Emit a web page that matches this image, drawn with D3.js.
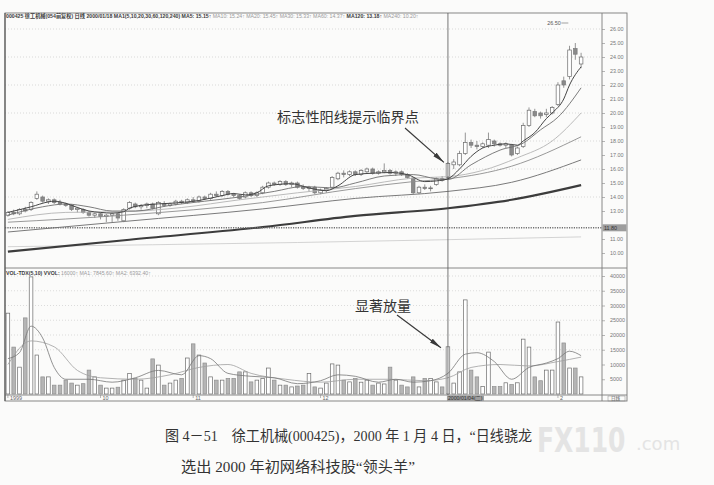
<!DOCTYPE html>
<html>
<head>
<meta charset="utf-8">
<script src="https://cdn.jsdelivr.net/npm/d3@7"></script>
<style>
  html, body { margin: 0; padding: 0; background: #fbfbfa; }
  svg { display: block; }
</style>
</head>
<body>
<svg id="chart" width="714" height="485"></svg>
<script>
// ---- trading days, 1999/09 .. 2000/02 ----
const sepDays = [9,10,13,14,15,16,17,20,21,22,23,24,27,28,29,30];
const octDays = [8,11,12,13,14,15,18,19,20,21,22,25,26,27,28,29];
const novDays = [1,2,3,4,5,8,9,10,11,12,15,16,17,18,19,22,23,24,25,26,29,30];
const decDays = [1,2,3,6,7,8,9,10,13,14,15,16,17,21,22,23,24,27,28,29,30,31];
const janDays = [4,5,6,7,10,11,12,13,14,17,18,19,20,21,24,25,26,27,28];
const febDays = [14,15,16,17,18];

const pad = d => String(d).padStart(2, "0");
const dates = [
  ...sepDays.map(d => "1999/09/" + pad(d)),
  ...octDays.map(d => "1999/10/" + pad(d)),
  ...novDays.map(d => "1999/11/" + pad(d)),
  ...decDays.map(d => "1999/12/" + pad(d)),
  ...janDays.map(d => "2000/01/" + pad(d)),
  ...febDays.map(d => "2000/02/" + pad(d))
];

// ---- daily prices (000425) ----
const opens = [
  12.7,12.9,12.8,13.1,13.1,13.9,14.0,13.7,13.8,13.6,
  13.5,13.4,13.1,13.1,12.9,12.7,12.8,12.6,12.7,12.8,
  12.3,13.2,13.5,13.3,13.4,13.5,12.8,13.5,13.4,13.5,
  13.7,13.6,13.8,13.7,14.0,13.9,14.2,14.1,14.4,14.2,
  14.1,14.0,14.3,14.1,14.3,14.7,15.0,14.9,15.1,14.9,
  15.0,14.7,14.6,14.7,14.3,14.5,14.7,15.3,15.7,15.6,
  15.8,15.6,15.8,16.0,15.7,15.8,15.9,15.7,15.8,15.6,
  15.35,14.3,14.7,14.6,14.9,15.3,15.4,16.3,16.3,17.1,
  17.9,17.7,17.6,17.7,18.0,17.8,17.7,17.7,17.1,17.6,
  19.1,20.1,20.0,19.9,20.0,20.6,22.3,22.6,24.6,23.5
];
const highs = [
  13.0,13.1,13.2,13.3,13.7,14.4,14.1,13.9,13.9,13.8,
  13.6,13.5,13.3,13.2,13.0,12.9,12.9,12.8,12.9,12.9,
  13.2,13.7,13.6,13.5,13.6,13.6,13.7,13.7,13.6,13.8,
  13.8,13.9,14.0,14.1,14.1,14.3,14.4,14.5,14.5,14.3,
  14.2,14.4,14.4,14.4,14.8,15.1,15.1,15.2,15.2,15.1,
  15.1,14.9,14.8,14.8,14.6,14.7,15.5,15.8,15.9,15.9,
  15.9,16.0,16.1,16.1,15.9,16.4,16.0,15.9,15.9,15.7,
  15.4,14.8,14.9,14.8,15.4,15.5,16.5,16.7,17.3,18.6,
  18.1,18.0,17.9,18.6,18.1,17.9,17.9,17.8,17.6,19.3,
  20.4,20.3,20.1,20.3,20.5,22.2,22.6,24.8,25.0,24.3
];
const lows = [
  12.6,12.7,12.7,12.9,13.0,13.8,13.6,13.5,13.5,13.4,
  13.3,13.0,12.9,12.8,12.6,12.5,12.4,12.2,12.2,12.3,
  12.2,13.1,13.2,13.1,13.2,13.1,12.7,13.3,13.3,13.4,
  13.5,13.5,13.6,13.6,13.8,13.8,14.0,14.0,14.1,14.0,
  13.8,13.9,14.0,14.0,14.2,14.6,14.8,14.8,14.8,14.7,
  14.6,14.5,14.4,14.2,14.2,14.3,14.6,15.2,15.4,15.5,
  15.5,15.5,15.7,15.6,15.6,15.7,15.6,15.5,15.5,15.3,
  14.2,14.2,14.5,14.4,14.8,15.1,15.2,16.0,16.2,17.0,
  17.5,17.4,17.5,17.5,17.6,17.6,17.5,16.9,17.0,17.5,
  19.0,19.7,19.6,19.7,19.9,20.5,21.8,22.4,23.8,23.2
];
const closes = [
  12.9,12.8,13.1,13.0,13.6,14.2,13.7,13.8,13.6,13.5,
  13.4,13.1,13.2,12.9,12.7,12.8,12.6,12.7,12.8,12.5,
  13.1,13.6,13.3,13.4,13.5,13.2,13.6,13.4,13.5,13.7,
  13.6,13.8,13.7,14.0,13.9,14.2,14.1,14.4,14.2,14.1,
  13.9,14.3,14.1,14.3,14.7,15.0,14.9,15.1,14.9,15.0,
  14.7,14.6,14.7,14.3,14.5,14.6,15.4,15.7,15.6,15.8,
  15.6,15.9,16.0,15.7,15.8,15.9,15.7,15.8,15.6,15.4,
  14.3,14.7,14.6,14.65,15.3,15.2,16.4,16.5,17.1,17.9,
  17.7,17.6,17.8,18.1,17.8,17.7,17.8,17.0,17.5,19.1,
  20.2,19.8,19.8,20.0,20.4,22.0,22.0,24.5,24.2,24.0
];
const volumes = [
  27400,15900,9100,25800,39700,13200,5800,5800,3000,3000,
  4700,3700,3000,3500,8100,5800,3000,2000,2000,2300,
  4700,7000,5300,4700,2000,11900,9800,3000,3700,4700,
  5300,12200,17000,13200,10500,5800,4700,4700,5300,5300,
  7500,7500,4100,4700,5300,8800,4700,3000,3000,2400,
  2700,3000,7000,2400,2000,3700,10200,9800,4700,4100,
  5300,4000,4700,3000,3700,3400,9100,4700,3000,2400,
  5800,2400,5300,5300,4100,2400,16000,3700,7500,31900,
  8100,5800,2500,14200,2500,2500,3800,3200,3800,18600,
  15900,5800,4500,8100,8100,24400,17300,8800,8800,5800
];

// ---- moving averages, [trading-day index, value] ----
const ma5 = [[0,12.9],[4,13.3],[7,13.65],[8,13.7],[10,13.55],[12,13.25],[14,13.0],[16,12.9],[18,12.85],[20,12.95],[21,13.2],[24,13.45],[28,13.55],[33,13.75],[37,14.1],[39,14.25],[41,14.15],[43,14.3],[45,14.8],[49,14.95],[52,14.65],[55,14.45],[57,14.8],[60,15.6],[63,15.7],[66,15.75],[69,15.6],[72,15.1],[74,15.15],[76,15.3],[78,16.0],[80,16.9],[82,17.5],[84,17.7],[86,17.8],[88,17.7],[89,18.0],[91,18.6],[93,19.6],[94,20.0],[96,21.0],[97,22.0],[99,23.3]];
const ma10 = [[0,12.7],[6,13.3],[10,13.5],[14,13.3],[18,13.0],[22,13.0],[28,13.4],[34,13.7],[40,14.0],[46,14.4],[51,14.75],[56,14.65],[60,15.0],[65,15.5],[70,15.6],[74,15.3],[76,15.25],[80,16.3],[85,17.35],[89,17.85],[92,18.8],[95,19.7],[99,21.8]];
const ma20 = [[0,12.4],[10,12.9],[20,12.95],[30,13.25],[40,13.8],[50,14.3],[60,14.75],[70,15.35],[76,15.45],[82,15.9],[88,16.8],[94,18.0],[99,20.0]];
const ma30 = [[0,12.2],[20,12.7],[44,13.6],[60,14.6],[70,15.1],[76,15.3],[87,16.2],[99,18.3]];
const ma60 = [[0,11.5],[20,12.25],[44,13.15],[60,13.9],[76,14.4],[87,15.05],[99,16.65]];
const ma120 = [[0,10.1],[21,10.95],[44,11.85],[60,12.65],[76,13.2],[87,13.8],[99,14.85]];
const ma240 = [[0,10.45],[50,10.75],[99,11.15]];

const volMa5 = [[0,12000],[2,14000],[4,23000],[6,19000],[8,9000],[10,5000],[14,5000],[18,4000],[22,5500],[26,8000],[30,6500],[33,13000],[35,12000],[38,7000],[42,6000],[46,5500],[50,3500],[54,4500],[57,6500],[60,6000],[64,4000],[67,5000],[70,4000],[73,4500],[76,7000],[79,13500],[81,14000],[84,11000],[87,5000],[90,9000],[93,10500],[95,12000],[97,14500],[99,13000]];
const volMa10 = [[0,10000],[4,18000],[8,16000],[12,8000],[16,5500],[22,5000],[28,6500],[33,9000],[38,10000],[42,7000],[48,5000],[54,4000],[60,5000],[66,5000],[72,4500],[76,5500],[80,9000],[85,10000],[90,9500],[95,11000],[99,12500]];

// ---- axes ----
const priceTicks = [10,11,13,14,15,16,17,18,19,20,21,22,23,24,25,26];
const priceGrid = [26,24,22,20,18,16,14];
const volTicks = [5000,10000,15000,20000,25000,30000,35000,40000];
const monthLabels = [
  {date: "1999/09/09", label: "1999"},
  {date: "1999/10/08", label: "10"},
  {date: "1999/11/01", label: "11"},
  {date: "1999/12/01", label: "12"},
  {date: "2000/02/14", label: "2"}
];
const cursorDate = "2000/01/04";
const cursorLabel = "2000/01/04(二)";
const cursorPrice = 11.80;
const topPrice = 26.50;

// ---- layout ----
const L = 5, R = 627, PR = 602, T = 13, PB = 268, VB = 395, B = 401;
const tinyFont = "'Liberation Sans', 'Noto Sans CJK SC', sans-serif";
const cjk = "'Noto Sans CJK SC', sans-serif";

const svg = d3.select("#chart");

const x = d3.scaleBand().domain(dates).range([5, 584]).paddingInner(0).paddingOuter(0);
const xc = d => x(d) + x.bandwidth() / 2;
const xi = i => xc(dates[i]);
const y = d3.scaleLinear().domain([10, 26]).range([253, 29]);
const yv = d3.scaleLinear().domain([0, 40000]).range([394, 276]);

const defs = svg.append("defs");
defs.append("marker").attr("id", "ah")
  .attr("viewBox", "0 0 12 6").attr("refX", 12).attr("refY", 3)
  .attr("markerWidth", 12).attr("markerHeight", 6)
  .attr("markerUnits", "userSpaceOnUse").attr("orient", "auto")
  .append("path").attr("d", "M0,0.6 L12,3 L0,5.4 Z").attr("fill", "#3a3a3a");

// ---- grid ----
const grid = svg.append("g");
grid.selectAll("line.pg").data(priceGrid).join("line")
  .attr("x1", L).attr("x2", PR).attr("y1", d => y(d)).attr("y2", d => y(d))
  .attr("stroke", "#c4c4c4").attr("stroke-width", 0.6).attr("stroke-dasharray", "1,2");
grid.selectAll("line.vg").data(volTicks.slice(2)).join("line")
  .attr("x1", L).attr("x2", PR).attr("y1", d => yv(d)).attr("y2", d => yv(d))
  .attr("stroke", "#c8c8c8").attr("stroke-width", 0.6).attr("stroke-dasharray", "1,2");

// ---- moving average lines ----
const maLine = d3.line().x(d => xi(d[0])).y(d => y(d[1])).curve(d3.curveMonotoneX);
const maSpecs = [
  {data: ma240, color: "#c9c9c9", w: 0.8},
  {data: ma120, color: "#3c3c3c", w: 2.1},
  {data: ma60, color: "#7a7a7a", w: 1.0},
  {data: ma30, color: "#8d8d8d", w: 0.9},
  {data: ma20, color: "#b3b3b3", w: 0.9},
  {data: ma10, color: "#6e6e6e", w: 0.9},
  {data: ma5, color: "#454545", w: 1.0}
];

// ---- candles ----
const n = dates.length;
const bw = 3.6;
const candles = svg.append("g");
d3.range(n).forEach(i => {
  const up = closes[i] >= opens[i];
  const cx = xi(i);
  candles.append("line")
    .attr("x1", cx).attr("x2", cx).attr("y1", y(highs[i])).attr("y2", y(lows[i]))
    .attr("stroke", "#6a6a6a").attr("stroke-width", 0.7);
  const top = y(Math.max(opens[i], closes[i]));
  const h = Math.max(0.8, Math.abs(y(opens[i]) - y(closes[i])));
  candles.append("rect")
    .attr("x", cx - bw / 2).attr("y", top).attr("width", bw).attr("height", h)
    .attr("fill", up ? "#ffffff" : "#8a8a8a")
    .attr("stroke", up ? "#6a6a6a" : "#7a7a7a").attr("stroke-width", 0.7);
});

const maG = svg.append("g").attr("fill", "none");
maSpecs.forEach(s => {
  maG.append("path").attr("d", maLine(s.data))
    .attr("stroke", s.color).attr("stroke-width", s.w);
});

// cursor price line
svg.append("line")
  .attr("x1", L).attr("x2", PR).attr("y1", y(cursorPrice)).attr("y2", y(cursorPrice))
  .attr("stroke", "#707070").attr("stroke-width", 1.4).attr("stroke-dasharray", "1.2,1.2");

// ---- volume bars ----
const vbw = 3.6;
const vols = svg.append("g");
d3.range(n).forEach(i => {
  const up = closes[i] >= opens[i];
  vols.append("rect")
    .attr("x", xi(i) - vbw / 2).attr("y", yv(volumes[i]))
    .attr("width", vbw).attr("height", yv(0) - yv(volumes[i]))
    .attr("fill", up ? "#ffffff" : "#b5b5b5")
    .attr("stroke", up ? "#6a6a6a" : "#8f8f8f").attr("stroke-width", 0.7);
});
const vLine = d3.line().x(d => xi(d[0])).y(d => yv(d[1])).curve(d3.curveMonotoneX);
svg.append("path").attr("d", vLine(volMa10)).attr("fill", "none")
  .attr("stroke", "#a0a0a0").attr("stroke-width", 0.8);
svg.append("path").attr("d", vLine(volMa5)).attr("fill", "none")
  .attr("stroke", "#777").attr("stroke-width", 0.8);

// ---- frame ----
const frame = svg.append("g").attr("stroke", "#7a7a7a").attr("stroke-width", 0.9).attr("fill", "none");
frame.append("rect").attr("x", L).attr("y", T).attr("width", R - L).attr("height", B - T);
frame.append("line").attr("x1", PR).attr("x2", PR).attr("y1", T).attr("y2", B);
frame.append("line").attr("x1", L).attr("x2", R).attr("y1", PB).attr("y2", PB);
frame.append("line").attr("x1", L).attr("x2", R).attr("y1", VB).attr("y2", VB);
svg.append("line").attr("x1", L).attr("x2", L).attr("y1", T).attr("y2", B)
  .attr("stroke", "#555").attr("stroke-width", 1.1);

// cursor date line
svg.append("line")
  .attr("x1", xc(cursorDate)).attr("x2", xc(cursorDate)).attr("y1", T).attr("y2", VB)
  .attr("stroke", "#555").attr("stroke-width", 0.8);

// ---- right axes ----
const pAxis = d3.axisRight(y).tickValues(priceTicks).tickSize(3).tickPadding(5)
  .tickFormat(d3.format(".2f"));
const pa = svg.append("g").attr("transform", `translate(${PR},0)`).call(pAxis);
const vAxis = d3.axisRight(yv).tickValues(volTicks).tickSize(3).tickPadding(5)
  .tickFormat(d3.format("d"));
const va = svg.append("g").attr("transform", `translate(${PR},0)`).call(vAxis);
[pa, va].forEach(g => {
  g.select(".domain").remove();
  g.selectAll(".tick line").attr("stroke", "#888").attr("stroke-width", 0.6);
  g.selectAll(".tick text").attr("fill", "#777").attr("font-size", 5.4)
    .attr("font-family", tinyFont);
});

// highlighted cursor price
svg.append("rect").attr("x", PR + 0.5).attr("y", y(cursorPrice) - 3.5)
  .attr("width", R - PR - 1).attr("height", 7).attr("fill", "#9d9d9d");
svg.append("text").attr("x", PR + 2).attr("y", y(cursorPrice) + 2)
  .attr("font-size", 5.4).attr("font-family", tinyFont).attr("fill", "#333")
  .text(d3.format(".2f")(cursorPrice));

// ---- date strip ----
const dateG = svg.append("g").attr("font-family", tinyFont).attr("font-size", 5.4).attr("fill", "#666");
monthLabels.forEach(m => {
  const mx = xc(m.date);
  svg.append("line").attr("x1", mx).attr("x2", mx).attr("y1", VB).attr("y2", VB + 3)
    .attr("stroke", "#888").attr("stroke-width", 0.6);
  dateG.append("text").attr("x", mx + 2).attr("y", VB + 5).text(m.label);
});
svg.append("rect").attr("x", xc(cursorDate) - 1).attr("y", VB + 0.5)
  .attr("width", 37).attr("height", 5.5).attr("fill", "#9d9d9d");
svg.append("text").attr("x", xc(cursorDate)).attr("y", VB + 5)
  .attr("font-family", tinyFont).attr("font-size", 5.2).attr("fill", "#333").text(cursorLabel);
svg.append("rect").attr("x", 608).attr("y", VB + 1).attr("width", 17).attr("height", 5)
  .attr("fill", "none").attr("stroke", "#888").attr("stroke-width", 0.5);
svg.append("text").attr("x", 611).attr("y", VB + 5).attr("font-family", cjk)
  .attr("font-size", 4.5).attr("fill", "#555").text("日线");

// ---- headers ----
const head = svg.append("text").attr("x", 6).attr("y", 17.5)
  .attr("font-family", tinyFont).attr("font-size", 5.2);
const headParts = [
  {t: "000425 徐工机械(054前复权) 日线 2000/01/18 MA1(5,10,20,30,60,120,240) ", c: "#3a3a3a", w: 700},
  {t: "MA5: 15.15↑ ", c: "#3a3a3a", w: 700},
  {t: "MA10: 15.24↑ ", c: "#9a9a9a", w: 400},
  {t: "MA20: 15.45↑ ", c: "#9a9a9a", w: 400},
  {t: "MA30: 15.33↑ ", c: "#9a9a9a", w: 400},
  {t: "MA60: 14.37↑ ", c: "#9a9a9a", w: 400},
  {t: "MA120: 13.18↑ ", c: "#3a3a3a", w: 700},
  {t: "MA240: 10.20↑", c: "#9a9a9a", w: 400}
];
headParts.forEach(p => head.append("tspan").attr("fill", p.c).attr("font-weight", p.w).text(p.t));

const vhead = svg.append("text").attr("x", 6).attr("y", 274.5)
  .attr("font-family", tinyFont).attr("font-size", 5.2);
[
  {t: "VOL-TDX(5,10) VVOL: ", c: "#3a3a3a", w: 700},
  {t: "16000↑  MA1: 7845.60↑  ", c: "#9a9a9a", w: 400},
  {t: "MA2: 6392.40↑", c: "#9a9a9a", w: 400}
].forEach(p => vhead.append("tspan").attr("fill", p.c).attr("font-weight", p.w).text(p.t));

// highest price marker
const hiI = d3.maxIndex(highs);
svg.append("text").attr("x", xi(hiI) - 28).attr("y", y(topPrice) + 3)
  .attr("font-family", tinyFont).attr("font-size", 5.4).attr("fill", "#555")
  .text(d3.format(".2f")(topPrice));
svg.append("line").attr("x1", xi(hiI) - 14).attr("x2", xi(hiI) - 7)
  .attr("y1", y(topPrice) + 1).attr("y2", y(topPrice) + 1)
  .attr("stroke", "#666").attr("stroke-width", 0.6);

// ---- annotations ----
svg.append("text").attr("x", 277).attr("y", 122).attr("font-family", cjk)
  .attr("font-size", 14.2).attr("fill", "#333").text("标志性阳线提示临界点");
svg.append("line").attr("x1", 405).attr("y1", 128).attr("x2", xc(cursorDate) - 4).attr("y2", y(16.4) - 1)
  .attr("stroke", "#3a3a3a").attr("stroke-width", 1.2).attr("marker-end", "url(#ah)");

svg.append("text").attr("x", 355).attr("y", 311).attr("font-family", cjk)
  .attr("font-size", 14).attr("fill", "#333").text("显著放量");
svg.append("line").attr("x1", 397).attr("y1", 315).attr("x2", xc(cursorDate) - 7).attr("y2", yv(volumes[dates.indexOf(cursorDate)]) + 1)
  .attr("stroke", "#3a3a3a").attr("stroke-width", 1.2).attr("marker-end", "url(#ah)");

// ---- caption ----
const cap1 = svg.append("text").attr("x", 165).attr("y", 441)
  .attr("font-family", "'Liberation Serif', 'Noto Sans CJK SC', serif")
  .attr("font-size", 15).attr("fill", "#333")
  .text("图 4－51　徐工机械(000425)，2000 年 1 月 4 日，“日线骁龙");
cap1.attr("textLength", 367).attr("lengthAdjust", "spacingAndGlyphs");
const cap2 = svg.append("text").attr("x", 181).attr("y", 472)
  .attr("font-family", "'Liberation Serif', 'Noto Sans CJK SC', serif")
  .attr("font-size", 15).attr("fill", "#333")
  .text("选出 2000 年初网络科技股“领头羊”");
cap2.attr("textLength", 234).attr("lengthAdjust", "spacingAndGlyphs");

// site mark
svg.append("text").attr("transform", "translate(537,452) scale(1,1.35)")
  .attr("font-family", "'DejaVu Sans', sans-serif").attr("font-weight", 700)
  .attr("font-size", 25).attr("fill", "#e4e4e4").text("FX110");
svg.append("text").attr("x", 636).attr("y", 450)
  .attr("font-family", "'DejaVu Sans', sans-serif")
  .attr("font-size", 18).attr("fill", "#e4e4e4").text(".com");
</script>
</body>
</html>
